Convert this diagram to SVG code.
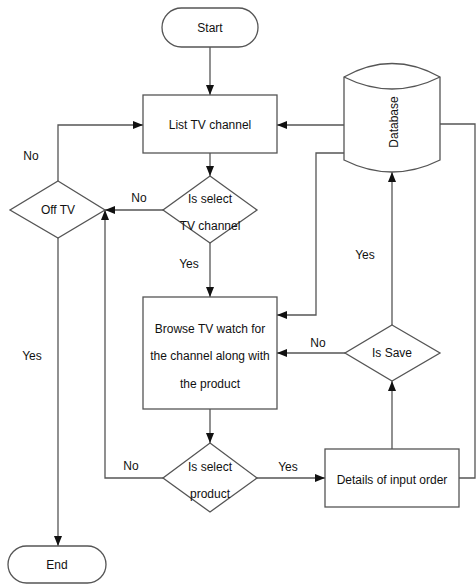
<svg xmlns="http://www.w3.org/2000/svg" width="476" height="585" viewBox="0 0 476 585">
<defs>
<marker id="arr" markerWidth="10" markerHeight="8" refX="10" refY="4" orient="auto" markerUnits="userSpaceOnUse">
<path d="M0,0 L10,4 L0,8 Z" fill="#111"/>
</marker>
<style>
.shape{fill:#fff;stroke:#555;stroke-width:1.3}
.line{fill:none;stroke:#555;stroke-width:1.3}
.arrow{fill:none;stroke:#555;stroke-width:1.3;marker-end:url(#arr)}
text{font-family:"Liberation Sans",Arial,sans-serif;font-size:12px;fill:#111;text-anchor:middle}
</style>
</defs>
<rect width="476" height="585" fill="#fff"/>
<g id="connectors">
<path class="arrow" d="M210,47 L210,95"/>
<path class="arrow" d="M210,153 L210,176"/>
<path class="arrow" d="M163,210 L105,210"/>
<path class="arrow" d="M58,181 L58,125 L143,125"/>
<path class="arrow" d="M58,238 L58,546"/>
<path class="arrow" d="M210,243 L210,297"/>
<path class="arrow" d="M210,409 L210,443"/>
<path class="arrow" d="M163,478 L105,478 L105,210"/>
<path class="arrow" d="M257,478 L325,478"/>
<path class="arrow" d="M392,449 L392,381"/>
<path class="arrow" d="M345,353 L277,353"/>
<path class="arrow" d="M392,325 L392,172"/>
<path class="arrow" d="M344,125 L277,125"/>
<path class="arrow" d="M344,153 L316,153 L316,315 L277,315"/>
<path class="line" d="M440,124 L475,124 L475,478 L459,478"/>
<text x="139" y="202">No</text>
<text x="31" y="160">No</text>
<text x="32" y="360">Yes</text>
<text x="189" y="268">Yes</text>
<text x="131" y="470">No</text>
<text x="288" y="471">Yes</text>
<text x="318" y="347">No</text>
<text x="365" y="259">Yes</text>
</g>
<g id="start">
<rect class="shape" x="162" y="8" width="96" height="39" rx="19.5"/>
<text x="210" y="32">Start</text>
</g>
<g id="list">
<rect class="shape" x="143" y="95" width="134" height="58"/>
<text x="210" y="129">List TV channel</text>
</g>
<g id="select-channel">
<polygon class="shape" points="210,176 257,210 210,243 163,210"/>
<text x="210" y="203">Is select</text>
<text x="210" y="230">TV channel</text>
</g>
<g id="off-tv">
<polygon class="shape" points="58,181 105,210 58,238 10,210"/>
<text x="58" y="214">Off TV</text>
</g>
<g id="end">
<rect class="shape" x="8" y="546" width="98" height="37" rx="18.5"/>
<text x="57" y="569">End</text>
</g>
<g id="browse">
<rect class="shape" x="143" y="297" width="134" height="112"/>
<text x="210" y="333">Browse TV watch for</text>
<text x="210" y="360">the channel along with</text>
<text x="210" y="388">the product</text>
</g>
<g id="select-product">
<polygon class="shape" points="210,443 257,478 210,512 163,478"/>
<text x="210" y="471">Is select</text>
<text x="210" y="498">product</text>
</g>
<g id="details">
<rect class="shape" x="325" y="449" width="134" height="58"/>
<text x="392" y="484">Details of input order</text>
</g>
<g id="is-save">
<polygon class="shape" points="392,325 440,353 392,381 345,353"/>
<text x="392" y="357">Is Save</text>
</g>
<g id="database">
<path class="shape" d="M344,77 Q392,50 440,77 L440,160 Q392,184 344,160 Z"/>
<path class="line" d="M344,77 Q392,101 440,77"/>
<text x="0" y="0" transform="translate(398,122) rotate(-90)">Database</text>
</g>
</svg>
